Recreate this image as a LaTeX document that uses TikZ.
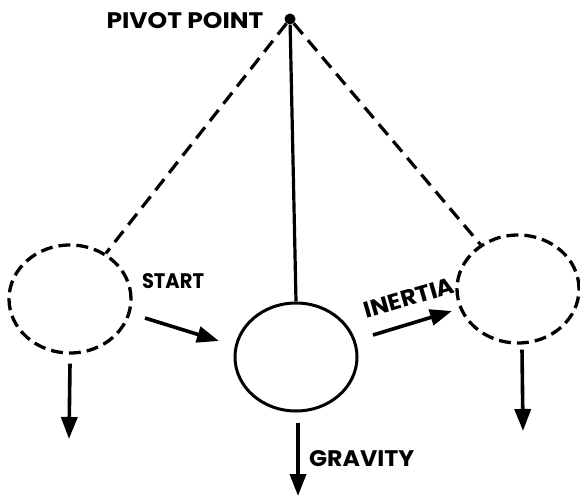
\documentclass[tikz,border=0pt]{standalone}
\usepackage{fontspec}
\newfontfamily\lblf{Poppins}
\usetikzlibrary{arrows.meta,shapes.geometric}
\newcommand{\lw}[3]{\resizebox{#1}{#2}{\lblf\bfseries #3}}
\begin{document}
\begin{tikzpicture}[x=1pt,y=-1pt,
  bob/.style={ellipse,draw,line width=3pt,minimum width=122pt,minimum height=108pt,inner sep=0pt},
  ghost/.style={bob,line width=3.3pt,dash pattern=on 12pt off 6pt},
  rope/.style={line width=3.2pt,dash pattern=on 14pt off 8pt},
  force/.style={line width=3.6pt,-{Triangle[length=22pt,width=16pt]}},
  lbl/.style={inner sep=0pt,anchor=center}]
\path[use as bounding box] (0,0) rectangle (580,497);
\node[circle,fill,inner sep=0pt,minimum size=11pt] (pivot) at (290,19) {};
\node[ghost] (left) at (70,299) {};
\node[bob] (mid) at (296,357) {};
\node[ghost] (right) at (518,289) {};
\node[lbl] (pivlbl) at (185,21) {\lw{157pt}{16pt}{PIVOT POINT}};
\node[lbl] (start) at (173,281) {\lw{62pt}{15pt}{START}};
\node[lbl,anchor=west] (grav) at (309,459) {\lw{105pt}{16pt}{GRAVITY}};
\node[lbl,rotate=16] (inertia) at (409,298) {\lw{93pt}{16pt}{INERTIA}};
\draw[rope] (pivot) -- (left);
\draw[rope] (pivot) -- (right);
\draw[line width=3.2pt] (pivot) -- (mid.north);
\coordinate (lt) at (69,439);
\coordinate (rt) at (523,431);
\coordinate (gt) at (298,496);
\coordinate (s1) at (145,318);
\coordinate (s2) at (219,341);
\coordinate (i1) at (373,335);
\coordinate (i2) at (452,311);
\draw[force] ([yshift=-9pt]left.south) -- (lt);
\draw[force] ([xshift=4pt,yshift=-5pt]right.south) -- (rt);
\draw[force] ([xshift=2pt,yshift=-10pt]mid.south) -- (gt);
\draw[force] (s1) -- (s2);
\draw[force] (i1) -- (i2);
\end{tikzpicture}
\end{document}
